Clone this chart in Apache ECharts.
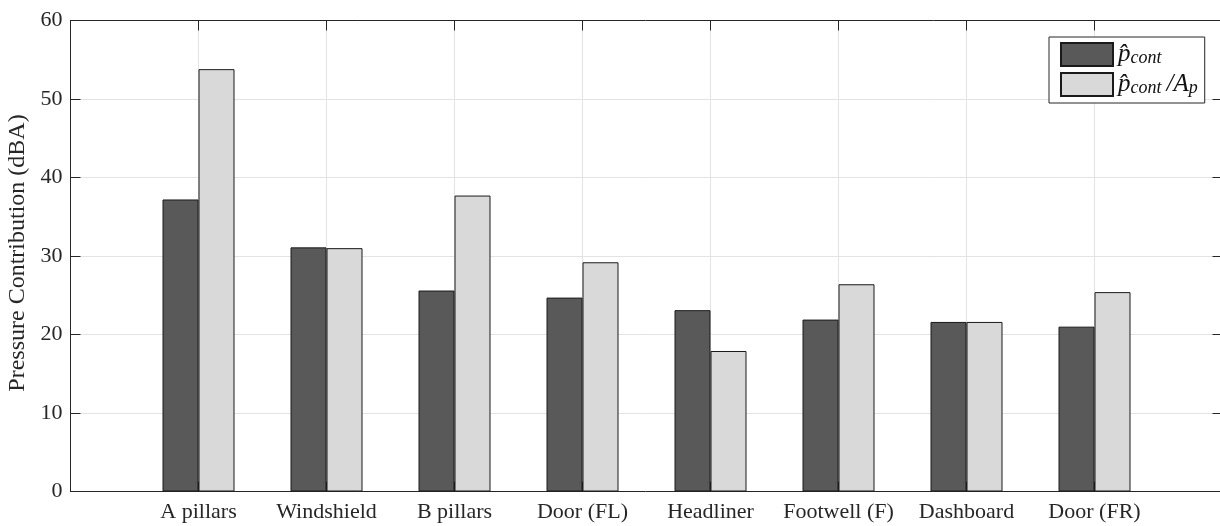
<!DOCTYPE html>
<html><head><meta charset="utf-8">
<script src="https://cdn.jsdelivr.net/npm/echarts@6/dist/echarts.min.js"></script>
<style>html,body{margin:0;padding:0;background:#fff;overflow:hidden}#c{width:1220px;height:526px}</style>
</head><body><div id="c"></div>
<script>
const categories = ['A pillars','Windshield','B pillars','Door (FL)','Headliner','Footwell (F)','Dashboard','Door (FR)'];
const pCont   = [37.2, 31.1, 25.6, 24.7, 23.1, 21.9, 21.6, 21.0];
const pContAp = [53.8, 31.0, 37.7, 29.2, 17.9, 26.4, 21.6, 25.4];
const yTicks = [0,10,20,30,40,50,60];

const FONT = '"Liberation Serif", "DejaVu Serif", serif';
const TXT = '#262626';
const chart = echarts.init(document.getElementById('c'), null, {renderer:'canvas'});
const toPts = arr => arr.map((v,i)=>[i+1, v]);
const axisBase = () => ({
  axisLine:{show:true, onZero:false, lineStyle:{color:TXT, width:1}},
  axisTick:{show:true, inside:true, length:10, lineStyle:{color:TXT}},
});
chart.setOption({
  animation:false,
  grid:{left:70.5, top:20.5, width:1152, height:471, show:false, containLabel:false, outerBoundsMode:'none'},
  xAxis:[
    Object.assign({type:'value', min:0, max:9, interval:1, position:'bottom',
      axisLabel:{color:TXT, fontFamily:FONT, fontSize:22, margin:10,
        formatter:v => (v>=1 && v<=categories.length) ? categories[v-1] : ''},
      splitLine:{show:true, lineStyle:{color:'#e3e3e3', width:1}}}, axisBase()),
    Object.assign({type:'value', min:0, max:9, interval:1, position:'top',
      axisLabel:{show:false}, splitLine:{show:false}}, axisBase())
  ],
  yAxis:[
    Object.assign({type:'value', min:yTicks[0], max:yTicks[yTicks.length-1], interval:10, position:'left',
      name:'Pressure Contribution (dBA)', nameLocation:'middle', nameGap:35, nameRotate:90,
      nameTextStyle:{color:TXT, fontFamily:FONT, fontSize:24, padding:[0,0,0,6]},
      axisLabel:{color:TXT, fontFamily:FONT, fontSize:22, margin:8},
      splitLine:{show:true, lineStyle:{color:'#e3e3e3', width:1}}}, axisBase()),
    Object.assign({type:'value', min:yTicks[0], max:yTicks[yTicks.length-1], interval:10, position:'right',
      axisLabel:{show:false}, splitLine:{show:false}}, axisBase())
  ],
  legend:{
    orient:'vertical', left:1049, top:37, itemWidth:52, itemHeight:23, itemGap:5,
    backgroundColor:'#fff', borderColor:TXT, borderWidth:1, borderRadius:0,
    padding:[5,6,6,11],
    icon:'rect',
    data:[{name:'a'},{name:'b'}],
    formatter: n => n==='a' ? '{p|p̂}{s|cont}' : '{p|p̂}{s|cont}{q|/A}{s|p}',
    textStyle:{color:'#111', fontFamily:FONT, fontStyle:'italic',
      rich:{
        p:{fontFamily:FONT, fontStyle:'italic', fontSize:25, color:'#111', lineHeight:25, verticalAlign:'bottom'},
        q:{fontFamily:FONT, fontStyle:'italic', fontSize:25, color:'#111', lineHeight:25, verticalAlign:'bottom', padding:[0,0,0,4]},
        s:{fontFamily:FONT, fontStyle:'italic', fontSize:18, color:'#111', lineHeight:25, verticalAlign:'bottom', padding:[7,1,0,0]}
      }}
  },
  series:[
    {name:'a', type:'bar', data:toPts(pCont), barWidth:36, barGap:'0%',
      itemStyle:{color:'#595959', borderColor:'#1a1a1a', borderWidth:1}},
    {name:'b', type:'bar', data:toPts(pContAp), barWidth:36, barGap:'0%',
      itemStyle:{color:'#d9d9d9', borderColor:'#1a1a1a', borderWidth:1}}
  ]
});
</script></body></html>
